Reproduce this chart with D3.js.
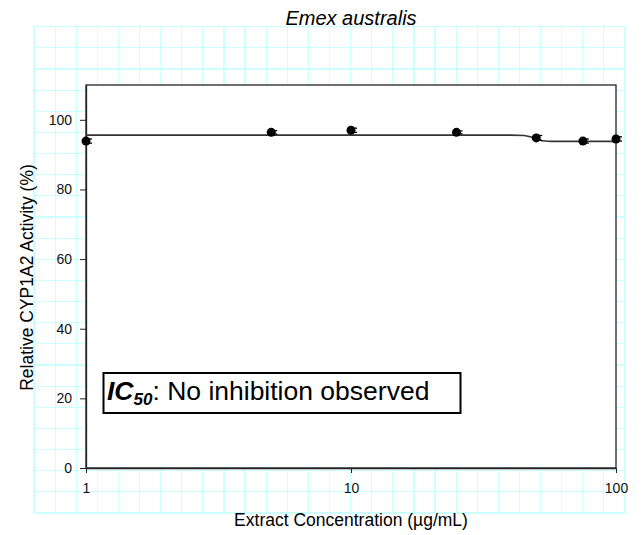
<!DOCTYPE html>
<html>
<head>
<meta charset="utf-8">
<script src="https://cdn.jsdelivr.net/npm/d3@7"></script>
<style>
  body { margin: 0; background: #fff; }
  svg { display: block; font-family: "Liberation Sans", Arial, sans-serif; }
</style>
</head>
<body>
<svg id="chart" width="642" height="535"></svg>
<script>
// measured points (concentration in ug/mL, activity %)
var concentrations = [1, 5, 10, 25, 50, 75, 100];
var activity = [93.9, 96.4, 97.0, 96.4, 94.8, 93.9, 94.5];
var errors = [0.6, 0.5, 0.6, 0.4, 0.7, 0.6, 0.6];

// fitted curve
var curveX = [1, 10, 40, 45, 48, 51, 54, 57, 100];
var curveY = [95.6, 95.6, 95.6, 95.5, 95.0, 94.3, 93.9, 93.8, 93.8];

var xTicks = [1, 10, 100];
var yTicks = [0, 20, 40, 60, 80, 100];

var svg = d3.select("#chart");

// graph paper background
var gx0 = 34, gx1 = 625, gy0 = 26.7, gy1 = 513;
var cols = 28, rows = 23;
var grid = svg.append("g")
    .attr("stroke", "#ccffff")
    .attr("stroke-width", 1.2)
    .attr("shape-rendering", "crispEdges");
d3.range(cols + 1).forEach(function(i) {
    var gx = gx0 + i * (gx1 - gx0) / cols;
    grid.append("line").attr("x1", gx).attr("x2", gx).attr("y1", gy0).attr("y2", gy1);
});
d3.range(rows + 1).forEach(function(i) {
    var gy = gy0 + i * (gy1 - gy0) / rows;
    grid.append("line").attr("x1", gx0).attr("x2", gx1).attr("y1", gy).attr("y2", gy);
});

var plotLeft = 86, plotRight = 616, plotTop = 85, plotBottom = 468;

var x = d3.scaleLog().domain([1, 100]).range([plotLeft, plotRight]);
var y = d3.scaleLinear().domain([0, 110]).range([plotBottom, plotTop]);

// plot area
svg.append("rect")
    .attr("x", plotLeft).attr("y", plotTop)
    .attr("width", plotRight - plotLeft).attr("height", plotBottom - plotTop)
    .attr("fill", "#fff")
    .attr("stroke", "#222")
    .attr("stroke-width", 1.3);

var xAxis = svg.append("g")
    .attr("transform", "translate(0," + plotBottom + ")")
    .call(d3.axisBottom(x).tickValues(xTicks).tickFormat(d3.format("d"))
        .tickSize(5).tickSizeOuter(0).tickPadding(10));
xAxis.attr("font-size", 14).attr("font-family", "Liberation Sans, Arial, sans-serif");
xAxis.select(".domain").attr("stroke", "#222").attr("stroke-width", 1.3);
xAxis.selectAll(".tick line").attr("stroke", "#222");
xAxis.selectAll("text").attr("fill", "#111");

var yAxis = svg.append("g")
    .attr("transform", "translate(" + plotLeft + ",0)")
    .call(d3.axisLeft(y).tickValues(yTicks).tickSize(6).tickSizeOuter(0).tickPadding(8));
yAxis.attr("font-size", 14).attr("font-family", "Liberation Sans, Arial, sans-serif");
yAxis.select(".domain").attr("stroke", "#222").attr("stroke-width", 1.3);
yAxis.selectAll(".tick line").attr("stroke", "#222");
yAxis.selectAll("text").attr("fill", "#111");

// fit line
var line = d3.line()
    .x(function(d) { return x(d[0]); })
    .y(function(d) { return y(d[1]); })
    .curve(d3.curveMonotoneX);
svg.append("path")
    .datum(d3.zip(curveX, curveY))
    .attr("d", line)
    .attr("fill", "none")
    .attr("stroke", "#333")
    .attr("stroke-width", 1.6);

// error bars
var pts = concentrations.map(function(c, i) {
    return { c: c, v: activity[i], e: errors[i] };
});
var eb = svg.append("g").attr("stroke", "#000").attr("stroke-width", 1.3);
pts.forEach(function(d) {
    var cx = x(d.c);
    eb.append("line").attr("x1", cx).attr("x2", cx)
        .attr("y1", y(d.v - d.e)).attr("y2", y(d.v + d.e));
    [d.v - d.e, d.v + d.e].forEach(function(v) {
        eb.append("line").attr("x1", cx).attr("x2", cx + 6)
            .attr("y1", y(v)).attr("y2", y(v));
    });
});

svg.append("g").selectAll("circle")
    .data(pts)
    .enter().append("circle")
    .attr("cx", function(d) { return x(d.c); })
    .attr("cy", function(d) { return y(d.v); })
    .attr("r", 4.5)
    .attr("fill", "#000");

// IC50 box
svg.append("rect")
    .attr("x", 103.5).attr("y", 373)
    .attr("width", 357).attr("height", 40)
    .attr("fill", "#fff")
    .attr("stroke", "#000")
    .attr("stroke-width", 2);
var ic = svg.append("text")
    .attr("x", 107).attr("y", 400)
    .attr("font-size", 26.5)
    .attr("fill", "#000");
ic.append("tspan").attr("font-weight", "bold").attr("font-style", "italic").text("IC");
ic.append("tspan").attr("font-weight", "bold").attr("font-style", "italic")
    .attr("font-size", 17).attr("dy", 5).text("50");
ic.append("tspan").attr("dy", -5).text(": No inhibition observed");

// titles
svg.append("text")
    .attr("x", (plotLeft + plotRight) / 2).attr("y", 25)
    .attr("text-anchor", "middle")
    .attr("font-size", 20)
    .attr("font-style", "italic")
    .text("Emex australis");

svg.append("text")
    .attr("x", (plotLeft + plotRight) / 2).attr("y", 526)
    .attr("text-anchor", "middle")
    .attr("font-size", 17.5)
    .text("Extract Concentration (\u00b5g/mL)");

svg.append("text")
    .attr("transform", "translate(33,277.5) rotate(-90)")
    .attr("text-anchor", "middle")
    .attr("font-size", 17.5)
    .text("Relative CYP1A2 Activity (%)");
</script>
</body>
</html>
